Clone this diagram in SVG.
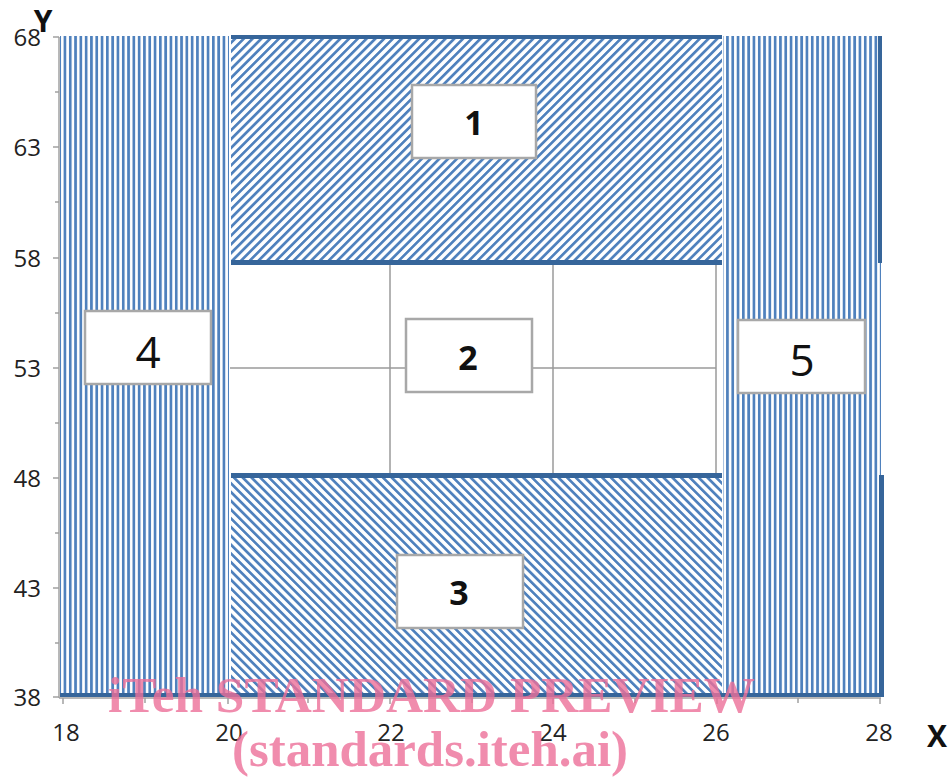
<svg xmlns="http://www.w3.org/2000/svg" width="952" height="778" viewBox="0 0 952 778">
<style>
.ax{font-family:"Open Sans","Liberation Sans",sans-serif;font-size:24px;fill:#222}
.axt{font-family:"Open Sans","Liberation Sans",sans-serif;font-size:30px;font-weight:bold;fill:#111}
.lb{fill:#fff;stroke:#a8a8a8;stroke-width:2.5}
.nb{font-family:"Open Sans","Liberation Sans",sans-serif;font-size:34px;font-weight:bold;fill:#111;text-anchor:middle}
.nr{font-family:"Open Sans","Liberation Sans",sans-serif;font-size:44px;fill:#111;text-anchor:middle}
.grid{stroke:#9a9a9a;stroke-width:1.5;fill:none}
.dark{fill:#36659a}
.tick{stroke:#a0a0a0;stroke-width:1.5}
.wm{font-family:"Liberation Serif","Times New Roman",serif;font-weight:bold;fill:#ec6f98;fill-opacity:0.8}
</style>
<defs>
<pattern id="vert" patternUnits="userSpaceOnUse" width="5.3" height="10">
<rect width="5.3" height="10" fill="#fff"/>
<rect x="0" width="2.7" height="10" fill="#4f81bd"/>
</pattern>
<pattern id="diagUp" patternUnits="userSpaceOnUse" width="6.2" height="10" patternTransform="rotate(45)">
<rect width="6.2" height="10" fill="#fff"/>
<rect x="0" width="2.7" height="10" fill="#4f81bd"/>
</pattern>
<pattern id="diagDn" patternUnits="userSpaceOnUse" width="6.2" height="10" patternTransform="rotate(-45)">
<rect width="6.2" height="10" fill="#fff"/>
<rect x="0" width="2.7" height="10" fill="#4f81bd"/>
</pattern>
</defs>
<rect width="952" height="778" fill="#fff"/>

<g id="axes">
<line class="tick" x1="59" y1="37" x2="59" y2="698"/>
<line class="tick" x1="59" y1="698" x2="881" y2="698"/>
<g class="tick">
<line x1="53" y1="37" x2="59" y2="37"/><line x1="55" y1="92" x2="59" y2="92"/>
<line x1="53" y1="147" x2="59" y2="147"/><line x1="55" y1="202" x2="59" y2="202"/>
<line x1="53" y1="258" x2="59" y2="258"/><line x1="55" y1="313" x2="59" y2="313"/>
<line x1="53" y1="368" x2="59" y2="368"/><line x1="55" y1="423" x2="59" y2="423"/>
<line x1="53" y1="478" x2="59" y2="478"/><line x1="55" y1="533" x2="59" y2="533"/>
<line x1="53" y1="588" x2="59" y2="588"/><line x1="55" y1="643" x2="59" y2="643"/>
<line x1="53" y1="697" x2="59" y2="697"/>
<line x1="63" y1="698" x2="63" y2="704"/><line x1="145" y1="698" x2="145" y2="703"/>
<line x1="228" y1="698" x2="228" y2="704"/><line x1="308" y1="698" x2="308" y2="703"/>
<line x1="390" y1="698" x2="390" y2="704"/><line x1="472" y1="698" x2="472" y2="703"/>
<line x1="553" y1="698" x2="553" y2="704"/><line x1="635" y1="698" x2="635" y2="703"/>
<line x1="717" y1="698" x2="717" y2="704"/><line x1="798" y1="698" x2="798" y2="703"/>
<line x1="880" y1="698" x2="880" y2="704"/>
</g>
<g class="ax" text-anchor="end">
<text x="41" y="46">68</text>
<text x="41" y="156">63</text>
<text x="41" y="267">58</text>
<text x="41" y="377">53</text>
<text x="41" y="487">48</text>
<text x="41" y="597">43</text>
<text x="41" y="706">38</text>
</g>
<g class="ax" text-anchor="middle">
<text x="66" y="741">18</text>
<text x="229" y="741">20</text>
<text x="391" y="741">22</text>
<text x="553" y="741">24</text>
<text x="716" y="741">26</text>
<text x="879" y="741">28</text>
</g>
<text class="axt" x="43" y="32" text-anchor="middle">Y</text>
<text class="axt" x="937" y="747" text-anchor="middle">X</text>
</g>

<g id="region4">
<rect x="60" y="36" width="169" height="661" fill="url(#vert)"/>
</g>
<g id="region5">
<rect x="723" y="36" width="158" height="661" fill="url(#vert)"/>
<rect class="dark" x="878" y="36" width="4" height="227"/>
<rect class="dark" x="879" y="475" width="5" height="222"/>
</g>
<g id="region1">
<rect x="231" y="37" width="491" height="225" fill="url(#diagUp)"/>
<rect class="dark" x="231" y="35" width="491" height="4"/>
<rect class="dark" x="231" y="260" width="491" height="5"/>
</g>
<g id="region2">
<rect x="231" y="265" width="491" height="208" fill="#fff"/>
<line class="grid" x1="390" y1="265" x2="390" y2="474"/>
<line class="grid" x1="553" y1="265" x2="553" y2="474"/>
<line class="grid" x1="716" y1="265" x2="716" y2="474"/>
<line class="grid" x1="230" y1="368" x2="716" y2="368"/>
</g>
<g id="region3">
<rect x="231" y="476" width="491" height="220" fill="url(#diagDn)"/>
<rect class="dark" x="231" y="473" width="491" height="5"/>
</g>
<rect class="dark" x="60" y="693" width="822" height="4"/>

<g id="label1"><rect class="lb" x="412" y="85" width="124" height="73"/><text class="nb" x="474" y="135">1</text></g>
<g id="label2"><rect class="lb" x="406" y="319" width="126" height="73"/><text class="nb" x="468" y="370">2</text></g>
<g id="label3"><rect class="lb" x="397" y="555" width="126" height="73"/><text class="nb" x="459" y="605">3</text></g>
<g id="label4"><rect class="lb" x="85" y="311" width="126" height="73"/><text class="nr" x="148" y="368">4</text></g>
<g id="label5"><rect class="lb" x="738" y="320" width="127" height="73"/><text class="nr" x="802" y="376">5</text></g>

<g id="watermark">
<text class="wm" x="108" y="712" font-size="50" textLength="647" lengthAdjust="spacingAndGlyphs">iTeh STANDARD PREVIEW</text>
<text class="wm" x="232" y="766" font-size="50" textLength="396" lengthAdjust="spacingAndGlyphs">(standards.iteh.ai)</text>
</g>
</svg>
